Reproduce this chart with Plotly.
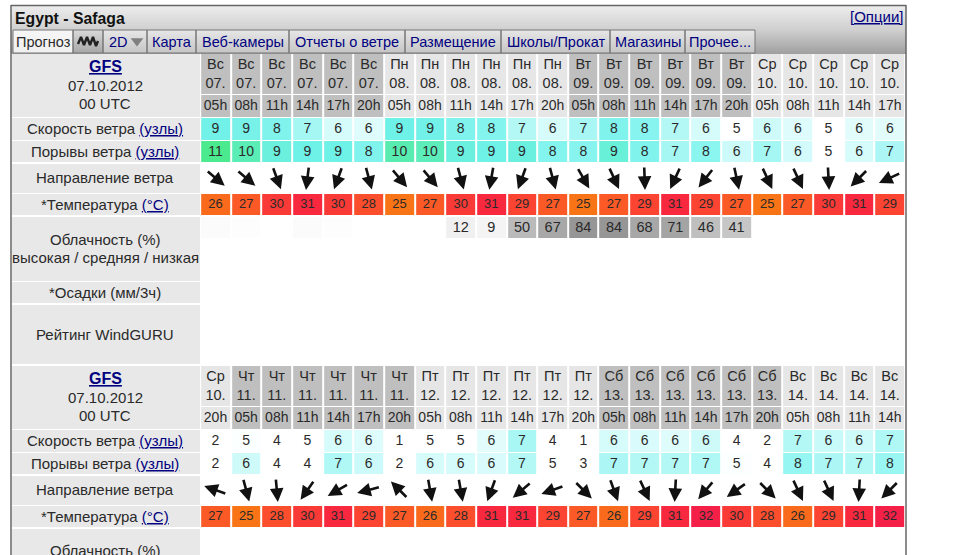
import math
import plotly.graph_objects as go

# values, block 1 (top table) and block 2 (bottom table)
days_1 = ['Вс'] * 6 + ['Пн'] * 6 + ['Вт'] * 6 + ['Ср'] * 5
dates_1 = ['07.'] * 6 + ['08.'] * 6 + ['09.'] * 6 + ['10.'] * 5
hours_1 = ['05h', '08h', '11h', '14h', '17h', '20h'] * 3 + ['05h', '08h', '11h', '14h', '17h']
shade_1 = [1] * 6 + [0] * 6 + [1] * 6 + [0] * 5
speed_1 = [8.9, 8.7, 8.4, 7.4, 6.0, 5.8, 9.0, 8.9, 8.4, 8.3, 7.0, 6.0, 7.3, 8.4, 8.2, 7.0, 6.0, 5.0, 6.2, 5.8, 4.9, 5.7, 5.7]
gust_1 = [11.0, 10.3, 9.3, 9.0, 9.0, 8.4, 10.4, 10.2, 9.2, 9.0, 9.2, 8.3, 8.2, 9.4, 8.4, 7.4, 8.1, 6.3, 7.4, 6.1, 4.9, 6.0, 7.2]
heading_1 = [130, 130, 160, 187, 200, 165, 140, 140, 165, 190, 200, 165, 150, 155, 178, 205, 218, 168, 155, 155, 177, 225, 245]
temp_1 = [26, 27, 30, 31, 30, 28, 25, 27, 30, 31, 29, 27, 25, 27, 29, 31, 29, 27, 25, 27, 30, 31, 29]
cloud_1 = [3, 2, 0, 3, 2, 0, 0, 0, 12, 9, 50, 67, 84, 84, 68, 71, 46, 41, 0, 0, 0, 0, 0]

days_2 = ['Ср'] + ['Чт'] * 6 + ['Пт'] * 6 + ['Сб'] * 6 + ['Вс'] * 4
dates_2 = ['10.'] + ['11.'] * 6 + ['12.'] * 6 + ['13.'] * 6 + ['14.'] * 4
hours_2 = ['20h'] + ['05h', '08h', '11h', '14h', '17h', '20h'] * 3 + ['05h', '08h', '11h', '14h']
shade_2 = [0] + [1] * 6 + [0] * 6 + [1] * 6 + [0] * 4
speed_2 = [2, 5.1, 4, 5, 6.0, 5.8, 1, 5, 5, 5.7, 7.3, 4, 1, 6.0, 5.9, 5.8, 6.2, 4, 2, 7.0, 6.4, 6.2, 7.1]
gust_2 = [2, 6.2, 4, 4, 7.1, 6.3, 2, 6.0, 6.0, 5.9, 7.0, 5, 3, 7.2, 7.0, 7.0, 7.1, 5.1, 4, 7.8, 7.2, 7.0, 7.7]
heading_2 = [290, 165, 175, 215, 240, 255, 315, 170, 170, 200, 230, 250, 135, 160, 155, 183, 220, 235, 135, 155, 155, 183, 225]
temp_2 = [27, 25, 28, 30, 31, 29, 27, 26, 28, 31, 31, 29, 27, 26, 29, 31, 32, 30, 28, 26, 29, 31, 32]

tab_names = ['Прогноз', '', '2D', 'Карта', 'Веб-камеры', 'Отчеты о ветре', 'Размещение', 'Школы/Прокат', 'Магазины', 'Прочее...']
tab_edges = [13, 73, 103, 147, 196, 289, 405, 501, 610, 685, 755]
wave_x = [78, 81, 84, 87, 90, 93, 96, 98]
wave_y = [44, 37, 45, 37, 45, 37, 46, 41]

# pixel geometry of the page
COL_X0 = 215.5
COL_DX = 30.65
FONT = 'Liberation Sans'
TEXT = '#2a2a2a'
LINK = '#000080'

wind_scale = [[0, '#ffffff'], [5 / 12, '#ffffff'], [6 / 12, '#d6fbfb'], [7 / 12, '#b4f8f6'], [8 / 12, '#8ef5f1'],
              [9 / 12, '#6ef1e6'], [10 / 12, '#60eec6'], [11 / 12, '#4cea8e'], [1, '#40e060']]
temp_scale = [[0, '#f97416'], [1 / 7, '#f96a1c'], [2 / 7, '#fb5a26'], [3 / 7, '#fb4e2c'], [4 / 7, '#fb4432'],
              [5 / 7, '#fa3a36'], [6 / 7, '#f8283e'], [1, '#f52048']]
cloud_scale = [[0, '#ffffff'], [0.12, '#f0f0f0'], [0.41, '#c6c6c6'], [0.5, '#bababa'], [0.84, '#969696'], [1, '#888888']]
shade_scale = [[0, '#e6e6e6'], [1, '#bfbfbf']]

fig = go.Figure()


def cell_row(values, top, bottom, scale, zmin, zmax):
    fig.add_trace(go.Heatmap(z=[values], x0=COL_X0, dx=COL_DX, y0=(top + bottom) / 2, dy=bottom - top,
                             colorscale=scale, zmin=zmin, zmax=zmax, showscale=False, xgap=2,
                             hoverinfo='skip'))


def text_row(labels, y, size=14):
    xs = [COL_X0 + i * COL_DX for i in range(len(labels))]
    fig.add_trace(go.Scatter(x=xs, y=[y] * len(labels), mode='text', text=labels,
                             textfont=dict(family=FONT, size=size, color=TEXT),
                             textposition='middle center', hoverinfo='skip', showlegend=False))


def label(text, y, x=105, size=15, color=TEXT, anchor='center'):
    fig.add_annotation(x=x, y=y - 1, text=text, showarrow=False, xanchor=anchor, yanchor='middle',
                       font=dict(family=FONT, size=size, color=color))


def left_cell(top, bottom):
    fig.add_shape(type='rect', x0=12, x1=200, y0=top, y1=bottom, fillcolor='#e8e8e8', line_width=0, layer='below')


def arrows(headings, y):
    for i, h in enumerate(headings):
        dx = math.sin(math.radians(h)) * 12
        dy = -math.cos(math.radians(h)) * 12
        cx = COL_X0 + i * COL_DX
        fig.add_annotation(x=cx + dx, y=y + dy, ax=cx - dx, ay=y - dy, xref='x', yref='y', axref='x', ayref='y',
                           text='', showarrow=True, arrowhead=2, arrowsize=1.05, arrowwidth=2.6, arrowcolor='#111111')


def block(top, days, dates, hours, shade, speed, gust, heading, temp, cloud=None):
    cell_row(shade, top, top + 40, shade_scale, 0, 1)
    cell_row(shade, top + 41, top + 63, shade_scale, 0, 1)
    text_row(days, top + 11, 14.5)
    text_row(dates, top + 30, 14.5)
    text_row(hours, top + 52)
    cell_row(speed, top + 64, top + 86, wind_scale, 0, 12)
    cell_row(gust, top + 87, top + 108, wind_scale, 0, 12)
    text_row([str(round(v)) for v in speed], top + 75)
    text_row([str(round(v)) for v in gust], top + 98)
    arrows(heading, top + 124)
    cell_row(temp, top + 140, top + 161, temp_scale, 25, 32)
    text_row([str(v) for v in temp], top + 151, 13)
    if cloud is not None:
        cell_row(cloud, top + 163, top + 184, cloud_scale, 0, 100)
        text_row([str(v) if v >= 5 else '' for v in cloud], top + 174, 14.5)

    left_cell(top, top + 63)
    left_cell(top + 64, top + 86)
    left_cell(top + 87, top + 108)
    left_cell(top + 110, top + 139)
    left_cell(top + 140, top + 161)
    label('<u><b>GFS</b></u>', top + 13, color=LINK, size=16)
    label('07.10.2012', top + 32)
    label('00 UTC', top + 50)
    label('Скорость ветра <span style="color:%s"><u>(узлы)</u></span>' % LINK, top + 75)
    label('Порывы ветра <span style="color:%s"><u>(узлы)</u></span>' % LINK, top + 98)
    label('Направление ветра', top + 124)
    label('*Температура <span style="color:%s"><u>(°C)</u></span>' % LINK, top + 151)


# header gradient, as one column of stacked levels
fig.add_trace(go.Heatmap(z=[[v] for v in range(48)], x0=458.5, dx=895, y0=6.5, dy=1,
                         colorscale=[[0, '#ececec'], [0.5, '#cfcfcf'], [1, '#a0a0a0']],
                         showscale=False, hoverinfo='skip'))

block(54, days_1, dates_1, hours_1, shade_1, speed_1, gust_1, heading_1, temp_1, cloud_1)
block(366, days_2, dates_2, hours_2, shade_2, speed_2, gust_2, heading_2, temp_2)

# rest of the left column
left_cell(217, 281)
left_cell(282, 303)
left_cell(305, 364)
label('Облачность (%)', 240)
label('высокая / средняя / низкая', 258)
label('*Осадки (мм/3ч)', 293)
label('Рейтинг WindGURU', 335)
left_cell(529, 556)
label('Облачность (%)', 551)

# tabs, each a small vertical gradient
for i, name in enumerate(tab_names):
    if i == 0:
        scale = [[0, '#f6f6f6'], [1, '#f0f0f0']]
    elif i == 1:
        scale = [[0, '#d8d8d8'], [1, '#a8a8a8']]
    else:
        scale = [[0, '#e6e6e6'], [1, '#c6c6c6']]
    fig.add_trace(go.Heatmap(z=[[v] for v in range(23)], x0=(tab_edges[i] + tab_edges[i + 1]) / 2,
                             dx=tab_edges[i + 1] - tab_edges[i], y0=30.5, dy=1, colorscale=scale,
                             showscale=False, hoverinfo='skip'))
    fig.add_shape(type='rect', x0=tab_edges[i], x1=tab_edges[i + 1], y0=30, y1=53,
                  line=dict(color='#777777', width=1), layer='above')
    if name:
        fig.add_annotation(x=(tab_edges[i] + tab_edges[i + 1]) / 2 - (7 if name == '2D' else 0), y=42, text=name,
                           showarrow=False, font=dict(family=FONT, size=14.5, color=TEXT if i == 0 else LINK))

fig.add_trace(go.Scatter(x=wave_x, y=wave_y, mode='lines', line=dict(color='#222222', width=2.4),
                         hoverinfo='skip', showlegend=False))
fig.add_trace(go.Scatter(x=[137], y=[41], mode='markers', marker=dict(symbol='triangle-down', size=11, color='#808080'),
                         hoverinfo='skip', showlegend=False))

label('<b>Egypt - Safaga</b>', 19, x=13, size=15.8, color='#111111', anchor='left')
label('<u>[Опции]</u>', 17, x=905, color=LINK, anchor='right')

# page frame
fig.add_shape(type='line', x0=11, x1=11, y0=5, y1=556, line=dict(color='#666666', width=1.5))
fig.add_shape(type='line', x0=906, x1=906, y0=5, y1=556, line=dict(color='#666666', width=1.5))
fig.add_shape(type='line', x0=11, x1=906, y0=5.5, y1=5.5, line=dict(color='#666666', width=1.5))

fig.update_layout(width=960, height=555, margin=dict(l=0, r=0, t=0, b=0), paper_bgcolor='white', plot_bgcolor='white',
                  xaxis=dict(range=[0, 960], visible=False, fixedrange=True),
                  yaxis=dict(range=[555, 0], visible=False, fixedrange=True),
                  showlegend=False)

fig.write_html("out.html", config=dict(displayModeBar=False),
               post_script="document.body.style.margin='0';document.body.style.overflow='hidden';")
